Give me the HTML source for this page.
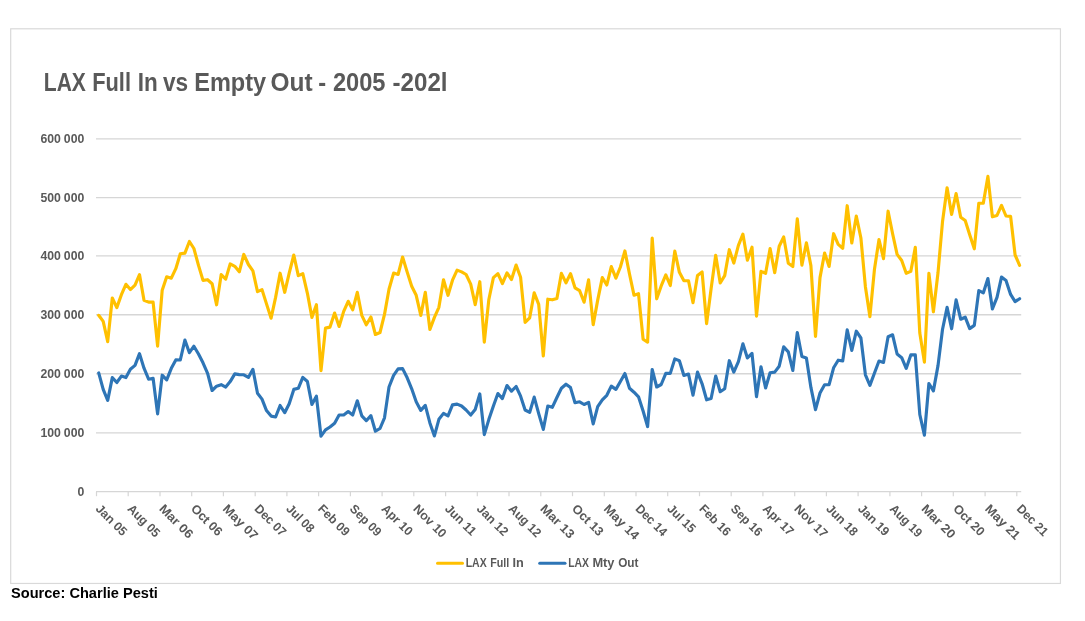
<!DOCTYPE html>
<html lang="en">
<head>
<meta charset="utf-8">
<title>LAX Full In vs Empty Out - 2005 -202l</title>
<style>
html,body{margin:0;padding:0;background:#fff;}
body{width:1085px;height:621px;overflow:hidden;position:relative;font-family:"Liberation Sans",sans-serif;}
svg{position:absolute;left:0;top:0;display:block;will-change:transform;}
svg text{font-family:"Liberation Sans",sans-serif;font-weight:bold;fill:#595959;}
.grid line{stroke:#d6d6d6;stroke-width:1.33;}
.ticks line{stroke:#d6d6d6;stroke-width:1.2;}
.ylab text{font-size:12.25px;text-anchor:end;word-spacing:-0.45px;}
.xlab text{font-size:12.5px;}
.legend text{font-size:12.3px;}
.series{fill:none;stroke-width:3.15;stroke-linejoin:round;stroke-linecap:round;}
.source{will-change:transform;position:absolute;left:11.1px;top:583.6px;font-size:14.6px;font-weight:bold;color:#000;line-height:18px;white-space:nowrap;letter-spacing:0;}
</style>
</head>
<body>
<svg width="1085" height="621" viewBox="0 0 1085 621">
<rect x="10.7" y="28.8" width="1049.75" height="554.6500000000001" fill="#fff" stroke="#d9d9d9" stroke-width="1.2"/>
<text y="91.0" font-size="24.9"><tspan x="43.80" textLength="42.10" lengthAdjust="spacingAndGlyphs">LAX</tspan> <tspan x="92.20" textLength="38.80" lengthAdjust="spacingAndGlyphs">Full</tspan> <tspan x="137.70" textLength="20.00" lengthAdjust="spacingAndGlyphs">In</tspan> <tspan x="162.90" textLength="25.20" lengthAdjust="spacingAndGlyphs">vs</tspan> <tspan x="194.20" textLength="71.90" lengthAdjust="spacingAndGlyphs">Empty</tspan> <tspan x="270.50" textLength="42.10" lengthAdjust="spacingAndGlyphs">Out</tspan> <tspan x="318.30" textLength="7.90" lengthAdjust="spacingAndGlyphs">-</tspan> <tspan x="332.90" textLength="52.60" lengthAdjust="spacingAndGlyphs">2005</tspan> <tspan x="392.50" textLength="55.00" lengthAdjust="spacingAndGlyphs">-202l</tspan></text>
<g class="grid">
<line x1="96.0" y1="138.83" x2="1021.2" y2="138.83"/>
<line x1="96.0" y1="197.63" x2="1021.2" y2="197.63"/>
<line x1="96.0" y1="255.95" x2="1021.2" y2="255.95"/>
<line x1="96.0" y1="314.78" x2="1021.2" y2="314.78"/>
<line x1="96.0" y1="373.73" x2="1021.2" y2="373.73"/>
<line x1="96.0" y1="432.81" x2="1021.2" y2="432.81"/>
<line x1="96.0" y1="491.7" x2="1021.2" y2="491.7"/>
</g>
<g class="ticks">
<line x1="96.5" y1="491.7" x2="96.5" y2="496.2"/>
<line x1="128.2" y1="491.7" x2="128.2" y2="496.2"/>
<line x1="160.0" y1="491.7" x2="160.0" y2="496.2"/>
<line x1="191.7" y1="491.7" x2="191.7" y2="496.2"/>
<line x1="223.4" y1="491.7" x2="223.4" y2="496.2"/>
<line x1="255.2" y1="491.7" x2="255.2" y2="496.2"/>
<line x1="286.9" y1="491.7" x2="286.9" y2="496.2"/>
<line x1="318.6" y1="491.7" x2="318.6" y2="496.2"/>
<line x1="350.4" y1="491.7" x2="350.4" y2="496.2"/>
<line x1="382.1" y1="491.7" x2="382.1" y2="496.2"/>
<line x1="413.8" y1="491.7" x2="413.8" y2="496.2"/>
<line x1="445.6" y1="491.7" x2="445.6" y2="496.2"/>
<line x1="477.3" y1="491.7" x2="477.3" y2="496.2"/>
<line x1="509.0" y1="491.7" x2="509.0" y2="496.2"/>
<line x1="540.8" y1="491.7" x2="540.8" y2="496.2"/>
<line x1="572.5" y1="491.7" x2="572.5" y2="496.2"/>
<line x1="604.3" y1="491.7" x2="604.3" y2="496.2"/>
<line x1="636.0" y1="491.7" x2="636.0" y2="496.2"/>
<line x1="667.7" y1="491.7" x2="667.7" y2="496.2"/>
<line x1="699.5" y1="491.7" x2="699.5" y2="496.2"/>
<line x1="731.2" y1="491.7" x2="731.2" y2="496.2"/>
<line x1="762.9" y1="491.7" x2="762.9" y2="496.2"/>
<line x1="794.7" y1="491.7" x2="794.7" y2="496.2"/>
<line x1="826.4" y1="491.7" x2="826.4" y2="496.2"/>
<line x1="858.1" y1="491.7" x2="858.1" y2="496.2"/>
<line x1="889.9" y1="491.7" x2="889.9" y2="496.2"/>
<line x1="921.6" y1="491.7" x2="921.6" y2="496.2"/>
<line x1="953.3" y1="491.7" x2="953.3" y2="496.2"/>
<line x1="985.1" y1="491.7" x2="985.1" y2="496.2"/>
<line x1="1016.8" y1="491.7" x2="1016.8" y2="496.2"/>
</g>
<g class="ylab">
<text x="84.3" y="142.78">600 000</text>
<text x="84.3" y="201.58">500 000</text>
<text x="84.3" y="259.90">400 000</text>
<text x="84.3" y="318.73">300 000</text>
<text x="84.3" y="377.68">200 000</text>
<text x="84.3" y="436.76">100 000</text>
<text x="84.3" y="495.65">0</text>
</g>
<g class="xlab">
<text transform="translate(95.0,509.5) rotate(45) scale(0.99,1)" x="0" y="0">Jan 05</text>
<text transform="translate(126.7,509.5) rotate(45) scale(0.966,1)" x="0" y="0">Aug 05</text>
<text transform="translate(158.5,509.5) rotate(45) scale(1.066,1)" x="0" y="0">Mar 06</text>
<text transform="translate(190.2,509.5) rotate(45) scale(1.01,1)" x="0" y="0">Oct 06</text>
<text transform="translate(222.0,509.5) rotate(45) scale(1.054,1)" x="0" y="0">May 07</text>
<text transform="translate(253.8,509.5) rotate(45) scale(0.96,1)" x="0" y="0">Dec 07</text>
<text transform="translate(285.5,509.5) rotate(45) scale(0.96,1)" x="0" y="0">Jul 08</text>
<text transform="translate(317.3,509.5) rotate(45) scale(0.98,1)" x="0" y="0">Feb 09</text>
<text transform="translate(349.0,509.5) rotate(45) scale(0.964,1)" x="0" y="0">Sep 09</text>
<text transform="translate(380.8,509.5) rotate(45) scale(0.98,1)" x="0" y="0">Apr 10</text>
<text transform="translate(412.5,509.5) rotate(45) scale(1.0,1)" x="0" y="0">Nov 10</text>
<text transform="translate(444.3,509.5) rotate(45) scale(0.98,1)" x="0" y="0">Jun 11</text>
<text transform="translate(476.1,509.5) rotate(45) scale(0.99,1)" x="0" y="0">Jan 12</text>
<text transform="translate(507.8,509.5) rotate(45) scale(0.966,1)" x="0" y="0">Aug 12</text>
<text transform="translate(539.6,509.5) rotate(45) scale(1.066,1)" x="0" y="0">Mar 13</text>
<text transform="translate(571.3,509.5) rotate(45) scale(1.01,1)" x="0" y="0">Oct 13</text>
<text transform="translate(603.1,509.5) rotate(45) scale(1.054,1)" x="0" y="0">May 14</text>
<text transform="translate(634.8,509.5) rotate(45) scale(0.96,1)" x="0" y="0">Dec 14</text>
<text transform="translate(666.6,509.5) rotate(45) scale(0.96,1)" x="0" y="0">Jul 15</text>
<text transform="translate(698.4,509.5) rotate(45) scale(0.98,1)" x="0" y="0">Feb 16</text>
<text transform="translate(730.1,509.5) rotate(45) scale(0.964,1)" x="0" y="0">Sep 16</text>
<text transform="translate(761.9,509.5) rotate(45) scale(0.98,1)" x="0" y="0">Apr 17</text>
<text transform="translate(793.6,509.5) rotate(45) scale(1.0,1)" x="0" y="0">Nov 17</text>
<text transform="translate(825.4,509.5) rotate(45) scale(0.98,1)" x="0" y="0">Jun 18</text>
<text transform="translate(857.2,509.5) rotate(45) scale(0.99,1)" x="0" y="0">Jan 19</text>
<text transform="translate(888.9,509.5) rotate(45) scale(0.966,1)" x="0" y="0">Aug 19</text>
<text transform="translate(920.7,509.5) rotate(45) scale(1.066,1)" x="0" y="0">Mar 20</text>
<text transform="translate(952.4,509.5) rotate(45) scale(1.01,1)" x="0" y="0">Oct 20</text>
<text transform="translate(984.2,509.5) rotate(45) scale(1.054,1)" x="0" y="0">May 21</text>
<text transform="translate(1015.9,509.5) rotate(45) scale(0.96,1)" x="0" y="0">Dec 21</text>
</g>
<polyline class="series" stroke="#ffc000" points="98.7,315.3 103.2,321.4 107.7,341.6 112.3,298.0 116.8,307.6 121.4,294.7 125.9,284.3 130.4,289.6 135.0,285.2 139.5,274.6 144.0,300.3 148.6,302.1 153.1,302.1 157.6,346.1 162.2,290.2 166.7,276.8 171.3,278.2 175.8,268.7 180.3,253.8 184.9,253.1 189.4,241.5 193.9,248.5 198.5,265.4 203.0,280.4 207.6,279.7 212.1,283.7 216.6,304.8 221.2,274.6 225.7,279.1 230.2,263.9 234.8,266.3 239.3,271.8 243.8,254.4 248.4,264.5 252.9,270.9 257.5,291.6 262.0,289.6 266.5,303.9 271.1,318.2 275.6,297.4 280.1,273.2 284.7,292.3 289.2,273.1 293.8,255.0 298.3,275.6 302.8,273.7 307.4,293.3 311.9,317.4 316.4,304.7 321.0,370.7 325.5,328.1 330.0,327.1 334.6,313.0 339.1,326.5 343.7,311.4 348.2,301.3 352.7,309.8 357.3,292.3 361.8,315.4 366.3,324.8 370.9,317.0 375.4,334.5 380.0,332.5 384.5,314.4 389.0,289.2 393.6,273.1 398.1,274.5 402.6,257.0 407.2,272.1 411.7,286.2 416.2,295.3 420.8,315.4 425.3,292.3 429.9,329.5 434.4,317.4 438.9,307.3 443.5,279.8 448.0,295.3 452.5,280.2 457.1,270.1 461.6,271.9 466.1,274.5 470.7,284.2 475.2,304.7 479.8,281.7 484.3,342.2 488.8,299.8 493.4,277.6 497.9,273.6 502.4,283.5 507.0,273.0 511.5,279.5 516.1,265.1 520.6,277.3 525.1,322.4 529.7,317.8 534.2,292.9 538.7,304.4 543.3,356.0 547.8,299.2 552.3,299.8 556.9,298.5 561.4,273.4 566.0,282.8 570.5,273.6 575.0,287.8 579.6,290.6 584.1,302.2 588.6,279.9 593.2,324.7 597.7,300.1 602.3,277.6 606.8,285.0 611.3,266.6 615.9,278.2 620.4,267.0 624.9,250.9 629.5,274.0 634.0,295.2 638.5,293.7 643.1,339.2 647.6,342.2 652.2,238.1 656.7,298.8 661.2,285.9 665.8,274.9 670.3,285.5 674.8,251.1 679.4,272.3 683.9,280.7 688.5,280.7 693.0,302.7 697.5,275.6 702.1,272.0 706.6,323.6 711.1,288.8 715.7,255.3 720.2,283.0 724.7,275.6 729.3,249.7 733.8,263.1 738.4,245.3 742.9,234.1 747.4,260.2 752.0,247.2 756.5,316.2 761.0,271.4 765.6,273.3 770.1,248.6 774.7,272.7 779.2,246.3 783.7,237.0 788.3,263.3 792.8,266.5 797.3,218.8 801.9,265.2 806.4,242.8 810.9,265.6 815.5,336.5 820.0,277.6 824.6,253.0 829.1,266.5 833.6,233.7 838.2,244.4 842.7,248.3 847.2,205.7 851.8,243.0 856.3,216.0 860.9,238.0 865.4,286.7 869.9,316.7 874.5,268.9 879.0,239.6 883.5,258.6 888.1,211.2 892.6,233.8 897.1,254.4 901.7,260.5 906.2,273.3 910.8,271.4 915.3,247.3 919.8,333.1 924.4,362.1 928.9,273.3 933.4,311.8 938.0,272.8 942.5,221.8 947.1,187.8 951.6,214.4 956.1,193.6 960.7,217.3 965.2,220.6 969.7,234.7 974.3,248.8 978.8,203.2 983.3,203.2 987.9,176.4 992.4,216.8 997.0,215.4 1001.5,205.4 1006.0,216.0 1010.6,216.4 1015.1,255.0 1019.6,265.3"/>
<polyline class="series" stroke="#2e75b6" points="98.7,372.9 103.2,389.4 107.7,400.4 112.3,377.6 116.8,382.5 121.4,376.1 125.9,377.6 130.4,369.3 135.0,365.4 139.5,353.6 144.0,368.2 148.6,379.2 153.1,378.3 157.6,413.9 162.2,375.2 166.7,379.8 171.3,368.3 175.8,359.9 180.3,360.0 184.9,340.1 189.4,352.7 193.9,346.2 198.5,354.0 203.0,362.8 207.6,373.3 212.1,390.5 216.6,386.2 221.2,384.7 225.7,387.1 230.2,381.6 234.8,373.9 239.3,374.6 243.8,374.8 248.4,377.4 252.9,369.3 257.5,393.2 262.0,399.1 266.5,410.6 271.1,416.1 275.6,417.0 280.1,405.5 284.7,412.7 289.2,403.8 293.8,389.4 298.3,388.3 302.8,377.4 307.4,381.5 311.9,404.5 316.4,396.2 321.0,436.2 325.5,429.8 330.0,427.0 334.6,423.3 339.1,415.0 343.7,415.0 348.2,411.5 352.7,415.0 357.3,400.8 361.8,415.9 366.3,420.7 370.9,415.6 375.4,431.2 380.0,428.5 384.5,417.8 389.0,387.0 393.6,375.4 398.1,368.9 402.6,368.6 407.2,377.8 411.7,388.8 416.2,401.8 420.8,410.4 425.3,405.4 429.9,422.9 434.4,435.9 438.9,419.3 443.5,413.4 448.0,415.9 452.5,404.9 457.1,404.1 461.6,406.0 466.1,410.0 470.7,415.0 475.2,409.5 479.8,393.9 484.3,434.6 488.8,419.6 493.4,406.0 497.9,393.5 502.4,398.6 507.0,385.5 511.5,391.2 516.1,386.5 520.6,396.2 525.1,410.0 529.7,412.3 534.2,397.1 538.7,413.7 543.3,429.4 547.8,406.0 552.3,407.3 556.9,397.5 561.4,388.3 566.0,384.2 570.5,387.6 575.0,402.7 579.6,401.8 584.1,404.5 588.6,402.3 593.2,423.9 597.7,406.7 602.3,399.9 606.8,395.3 611.3,386.1 615.9,389.4 620.4,381.5 624.9,373.5 629.5,388.3 634.0,392.2 638.5,396.8 643.1,411.0 647.6,426.6 652.2,369.5 656.7,387.0 661.2,384.5 665.8,373.4 670.3,373.4 674.8,358.9 679.4,360.7 683.9,375.5 688.5,374.0 693.0,395.2 697.5,372.1 702.1,383.8 706.6,399.8 711.1,398.5 715.7,376.0 720.2,391.7 724.7,388.7 729.3,360.7 733.8,372.1 738.4,361.6 742.9,343.8 747.4,357.9 752.0,353.3 756.5,396.7 761.0,366.8 765.6,388.0 770.1,372.7 774.7,372.1 779.2,366.2 783.7,346.9 788.3,351.9 792.8,370.5 797.3,332.5 801.9,356.5 806.4,357.9 810.9,387.4 815.5,409.6 820.0,393.0 824.6,384.7 829.1,384.7 833.6,367.8 838.2,360.2 842.7,360.9 847.2,329.9 851.8,350.5 856.3,331.2 860.9,338.0 865.4,374.8 869.9,385.4 874.5,373.0 879.0,361.0 883.5,362.5 888.1,336.7 892.6,334.8 897.1,354.0 901.7,357.7 906.2,368.4 910.8,354.9 915.3,354.9 919.8,414.5 924.4,435.1 928.9,383.5 933.4,390.9 938.0,365.6 942.5,329.5 947.1,307.4 951.6,328.8 956.1,299.9 960.7,319.2 965.2,317.2 969.7,328.6 974.3,325.4 978.8,290.6 983.3,292.9 987.9,278.6 992.4,308.9 997.0,297.3 1001.5,277.1 1006.0,280.5 1010.6,294.4 1015.1,301.6 1019.6,298.7"/>
<g class="legend">
<line x1="437.5" y1="563.2" x2="462.5" y2="563.2" stroke="#ffc000" stroke-width="3" stroke-linecap="round"/>
<text y="567.1" font-size="11.2"><tspan x="465.70" textLength="21.00" lengthAdjust="spacingAndGlyphs">LAX</tspan> <tspan x="490.20" textLength="19.00" lengthAdjust="spacingAndGlyphs">Full</tspan> <tspan x="512.40" textLength="11.30" lengthAdjust="spacingAndGlyphs">In</tspan></text>
<line x1="539.7" y1="563.2" x2="565" y2="563.2" stroke="#2e75b6" stroke-width="3" stroke-linecap="round"/>
<text y="567.1" font-size="11.2"><tspan x="568.20" textLength="20.80" lengthAdjust="spacingAndGlyphs">LAX</tspan> <tspan x="592.40" textLength="22.10" lengthAdjust="spacingAndGlyphs">Mty</tspan> <tspan x="618.20" textLength="20.30" lengthAdjust="spacingAndGlyphs">Out</tspan></text>
</g>
</svg>
<div class="source">Source: Charlie Pesti</div>
</body>
</html>
